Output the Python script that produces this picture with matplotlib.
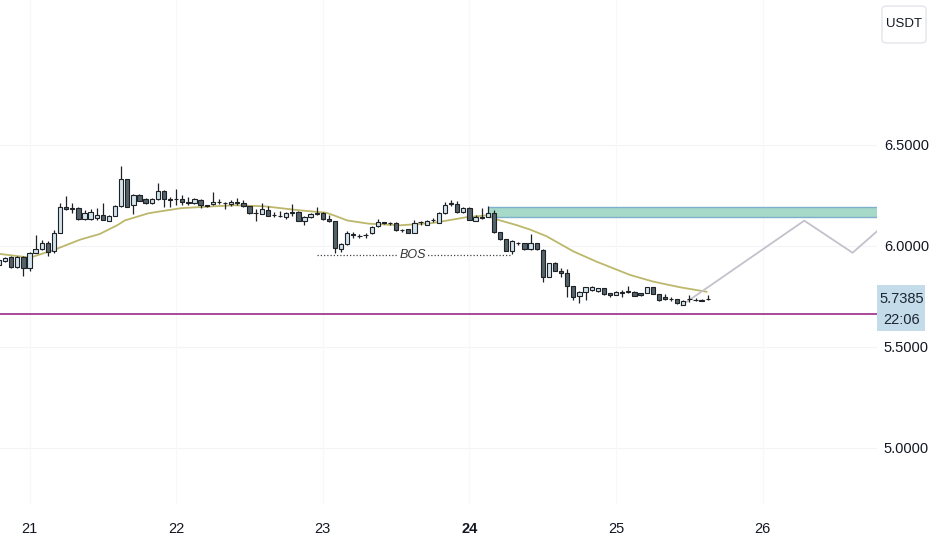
import numpy as np
import matplotlib
matplotlib.use('Agg')
import matplotlib.pyplot as plt
import matplotlib.patches as patches
from matplotlib.transforms import blended_transform_factory

# --- Data (hourly candles, hour 0 = day 21 00:00) ---
start_hour = -5
opens = [5.904, 5.926, 5.943, 5.893, 5.943, 5.888, 5.965, 5.985, 6.015, 5.974,
         6.064, 6.190, 6.184, 6.185, 6.131, 6.131, 6.136, 6.152, 6.124, 6.147,
         6.197, 6.329, 6.201, 6.251, 6.230, 6.213, 6.230, 6.272, 6.230, 6.229,
         6.231, 6.215, 6.212, 6.228, 6.201, 6.204, 6.214, 6.211, 6.205, 6.211,
         6.213, 6.197, 6.160, 6.157, 6.177, 6.151, 6.148, 6.144, 6.164, 6.168,
         6.124, 6.140, 6.159, 6.160, 6.131, 6.122, 5.984, 6.007, 6.055, 6.050,
         6.051, 6.061, 6.097, 6.116, 6.112, 6.111, 6.078, 6.081, 6.064, 6.115,
         6.102, 6.126, 6.114, 6.160, 6.208, 6.206, 6.165, 6.188, 6.124, 6.141,
         6.144, 6.160, 6.069, 6.032, 5.975, 6.012, 6.012, 5.982, 6.012, 5.979,
         5.847, 5.916, 5.876, 5.863, 5.800, 5.751, 5.772, 5.780, 5.775, 5.789,
         5.767, 5.756, 5.767, 5.772, 5.773, 5.764, 5.766, 5.794, 5.761, 5.746,
         5.737, 5.735, 5.708, 5.735, 5.731, 5.728, 5.734]
highs = [5.939, 5.946, 5.947, 5.947, 5.949, 5.969, 6.053, 6.028, 6.023, 6.078,
         6.210, 6.246, 6.210, 6.192, 6.177, 6.180, 6.185, 6.211, 6.150, 6.201,
         6.395, 6.332, 6.255, 6.255, 6.238, 6.238, 6.309, 6.276, 6.243, 6.279,
         6.250, 6.243, 6.238, 6.233, 6.202, 6.267, 6.230, 6.215, 6.225, 6.235,
         6.225, 6.198, 6.180, 6.210, 6.196, 6.168, 6.173, 6.168, 6.206, 6.170,
         6.147, 6.163, 6.190, 6.168, 6.152, 6.124, 6.015, 6.075, 6.069, 6.060,
         6.065, 6.097, 6.134, 6.119, 6.119, 6.116, 6.085, 6.083, 6.127, 6.120,
         6.128, 6.135, 6.165, 6.215, 6.226, 6.221, 6.190, 6.190, 6.150, 6.185,
         6.196, 6.176, 6.070, 6.035, 6.028, 6.020, 6.014, 6.058, 6.014, 5.982,
         5.916, 5.920, 5.888, 5.883, 5.802, 5.775, 5.796, 5.802, 5.792, 5.792,
         5.768, 5.775, 5.780, 5.800, 5.776, 5.766, 5.797, 5.796, 5.763, 5.761,
         5.746, 5.737, 5.730, 5.756, 5.741, 5.736, 5.756]
lows = [5.900, 5.921, 5.890, 5.890, 5.850, 5.876, 5.964, 5.979, 5.949, 5.964,
        6.063, 6.177, 6.160, 6.127, 6.127, 6.127, 6.127, 6.125, 6.122, 6.145,
        6.192, 6.190, 6.155, 6.220, 6.205, 6.208, 6.226, 6.193, 6.193, 6.200,
        6.203, 6.203, 6.208, 6.185, 6.194, 6.200, 6.205, 6.180, 6.195, 6.203,
        6.190, 6.158, 6.124, 6.155, 6.145, 6.144, 6.140, 6.131, 6.148, 6.122,
        6.102, 6.137, 6.152, 6.128, 6.119, 5.962, 5.970, 6.005, 6.040, 6.037,
        6.040, 6.058, 6.095, 6.108, 6.104, 6.075, 6.070, 6.062, 6.062, 6.103,
        6.100, 6.118, 6.112, 6.157, 6.196, 6.163, 6.160, 6.125, 6.120, 6.134,
        6.142, 6.065, 6.028, 5.972, 5.958, 6.005, 5.980, 5.980, 5.980, 5.822,
        5.845, 5.873, 5.847, 5.745, 5.731, 5.716, 5.731, 5.775, 5.772, 5.758,
        5.746, 5.754, 5.746, 5.766, 5.749, 5.752, 5.764, 5.759, 5.728, 5.733,
        5.726, 5.712, 5.706, 5.721, 5.726, 5.724, 5.733]
closes = [5.929, 5.938, 5.893, 5.943, 5.888, 5.965, 5.985, 6.015, 5.970, 6.064,
          6.190, 6.180, 6.186, 6.131, 6.163, 6.166, 6.152, 6.127, 6.147, 6.197,
          6.329, 6.193, 6.251, 6.223, 6.213, 6.230, 6.272, 6.230, 6.228, 6.231,
          6.215, 6.214, 6.230, 6.200, 6.197, 6.218, 6.216, 6.209, 6.218, 6.214,
          6.197, 6.160, 6.161, 6.180, 6.148, 6.152, 6.147, 6.163, 6.166, 6.124,
          6.141, 6.157, 6.161, 6.132, 6.121, 5.987, 6.007, 6.061, 6.058, 6.049,
          6.053, 6.094, 6.119, 6.113, 6.113, 6.078, 6.077, 6.064, 6.111, 6.118,
          6.124, 6.128, 6.163, 6.201, 6.211, 6.165, 6.185, 6.129, 6.144, 6.140,
          6.160, 6.069, 6.032, 5.975, 6.025, 6.015, 5.982, 6.012, 5.982, 5.847,
          5.913, 5.876, 5.863, 5.800, 5.748, 5.772, 5.794, 5.794, 5.789, 5.761,
          5.757, 5.772, 5.768, 5.773, 5.751, 5.756, 5.794, 5.761, 5.731, 5.735,
          5.735, 5.715, 5.728, 5.737, 5.732, 5.729, 5.7385]

# moving average (hour, price)
ma_hours = [-4.8, -0.5, 0.6, 3.9, 8.3, 11.5, 14.4, 15.6, 19.4, 21.4, 24.9, 30.2,
            33.6, 38.5, 43.9, 48.6, 50.0, 52.0, 55.5, 60.7, 65.9, 69.6, 71.5,
            74.8, 76.8, 79.7, 81.9, 84.6, 89.0, 92.8, 98.3, 102.1, 106.5, 110.8]
ma_values = [5.959, 5.943, 5.946, 5.978, 6.030, 6.058, 6.102, 6.125, 6.160, 6.170,
             6.186, 6.195, 6.200, 6.195, 6.176, 6.163, 6.148, 6.125, 6.109, 6.101,
             6.112, 6.131, 6.141, 6.150, 6.127, 6.102, 6.080, 6.047, 5.972, 5.921,
             5.855, 5.822, 5.794, 5.772]

# projection path
proj_hours = [106.7, 126.8, 134.7, 138.8]
proj_prices = [5.704, 6.124, 5.965, 6.074]

zone_start, zone_low, zone_high = 75, 6.142, 6.192
bos_start, bos_end, bos_price = 47, 79, 5.955
level_price = 5.660
last_price = 5.7385
countdown = '22:06'

day_hours = [0, 24, 48, 72, 96, 120]
day_labels = ['21', '22', '23', '24', '25', '26']
price_ticks = [5.0, 5.5, 6.0, 6.5]

FONT = ['Liberation Sans Narrow', 'DejaVu Sans Condensed', 'Liberation Sans', 'DejaVu Sans']
plt.rcParams['font.family'] = FONT

# --- Figure ---
fig = plt.figure(figsize=(9.32, 5.5), dpi=100)
fig.patch.set_facecolor('white')
ax = fig.add_axes([0, 1 - 505 / 550, 877 / 932, 505 / 550])
ax.set_xlim(-4.83, 138.7)
ax.set_ylim(4.7163, 7.2163)
for s in ax.spines.values():
    s.set_visible(False)

# faint grid
for p in price_ticks:
    ax.axhline(p, color='#f3f4f6', lw=0.8, zorder=0)
for h in day_hours:
    ax.axvline(h, color='#f7f8fa', lw=0.8, zorder=0)

hours = np.arange(len(opens)) + start_hour
o = np.array(opens)
c = np.array(closes)
up = c >= o
body_h = np.where(np.abs(c - o) < 0.002, 0.002 * np.sign(c - o + 1e-9), c - o)

ax.vlines(hours, lows, highs, color='#1e2226', lw=0.9, zorder=3)
ax.bar(hours, body_h, bottom=o, width=0.7,
       color=np.where(up, '#d3e4ed', '#536369'),
       edgecolor='#1e2226', linewidth=0.8, zorder=4)

# moving average
ax.plot(ma_hours, ma_values, color='#bdb76b', lw=1.3, zorder=2)

# supply zone
ax.add_patch(patches.Rectangle((zone_start, zone_low), 200, zone_high - zone_low,
                               facecolor='#a6d9c7', edgecolor='none', zorder=1))
ax.hlines([zone_low, zone_high], zone_start, 200, color='#7eb0cc', lw=1, zorder=1)

# projection
ax.plot(proj_hours, proj_prices, color='#c5c1cc', lw=1.3, zorder=2)

# BOS
ax.plot([bos_start, bos_end], [bos_price, bos_price], color='#444444',
        lw=0.9, linestyle=(0, (1, 1.6)), zorder=2)
ax.text((bos_start + bos_end) / 2 - 0.3, bos_price, 'BOS', style='italic',
        fontsize=9, color='#333333', ha='center', va='center', zorder=5,
        bbox=dict(facecolor='white', edgecolor='none', pad=1.5))

# horizontal level
ax.axhline(level_price, color='#9b2a86', lw=1.2, zorder=2)

# axes ticks
ax.yaxis.tick_right()
ax.set_yticks(price_ticks)
ax.set_yticklabels([f'{p:.4f}' for p in price_ticks])
ax.set_xticks(day_hours)
ax.set_xticklabels(day_labels)
ax.tick_params(axis='y', length=0, pad=5, labelsize=10.5, labelcolor='#131722')
ax.tick_params(axis='x', length=0, pad=12, labelsize=10.5, labelcolor='#131722')
for lbl in ax.get_xticklabels():
    if lbl.get_text() == '24':
        lbl.set_fontweight('bold')

# last price label
tr = blended_transform_factory(ax.transAxes, ax.transData)
ax.add_patch(patches.Rectangle((1.0, last_price - 0.163), 48 / 877, 0.228,
                               transform=tr, facecolor='#c4dce9', edgecolor='none',
                               clip_on=False, zorder=6))
ax.text(1.0 + 25 / 877, last_price, f'{last_price:.4f}', transform=tr,
        ha='center', va='center', fontsize=10.5, color='#1a2530', zorder=7)
ax.text(1.0 + 25 / 877, last_price - 0.105, countdown, transform=tr,
        ha='center', va='center', fontsize=10.5, color='#1a2530', zorder=7)

# currency badge
fig.patches.append(patches.FancyBboxPatch((882 / 932, 1 - 43 / 550), 44 / 932, 37 / 550,
                                          boxstyle='round,pad=0,rounding_size=0.006',
                                          transform=fig.transFigure, facecolor='white',
                                          edgecolor='#e3e5ea', lw=1))
fig.text(904 / 932, 1 - 24 / 550, 'USDT', ha='center', va='center',
         fontsize=9.5, color='#131722')

fig.savefig('out.png', dpi=100)
